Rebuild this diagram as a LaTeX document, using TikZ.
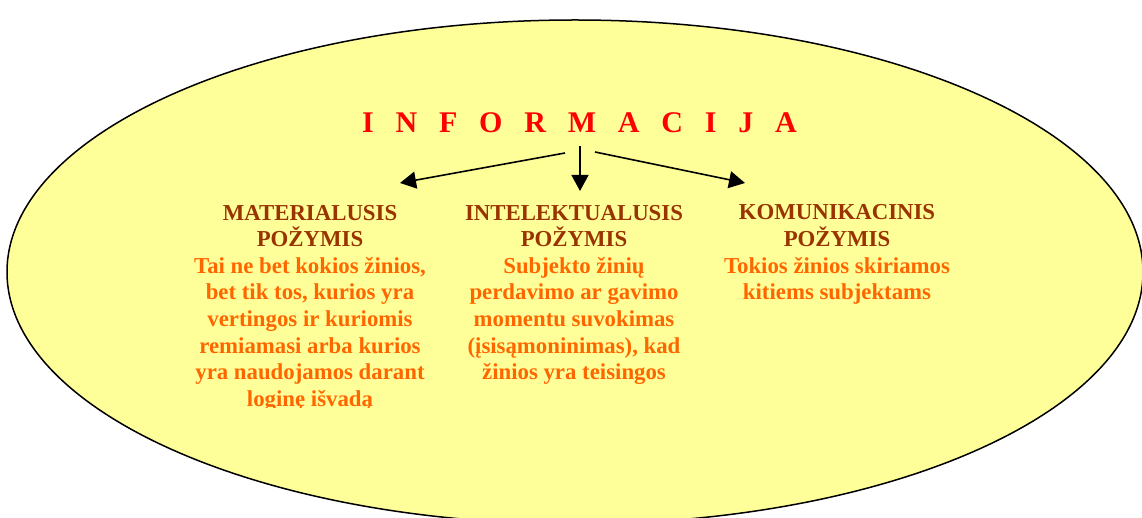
\documentclass[tikz,border=0pt]{standalone}
\usepackage{fontspec}
\setmainfont{Liberation Serif}
\usepackage{tikz}
\usetikzlibrary{arrows.meta}

\definecolor{ovalfill}{HTML}{FFFF99}
\definecolor{headbrown}{HTML}{993300}
\definecolor{bodyorange}{HTML}{FF6600}

\begin{document}
\begin{tikzpicture}[x=1pt, y=-1pt, line width=1.5pt,
    block/.style={align=center, anchor=base, inner sep=0pt, text=bodyorange,
      font=\bfseries\fontsize{22.8}{26.6}\selectfont},
    branch/.style={-{Triangle[length=16pt, width=17pt]}, line width=1.6pt}]
    \useasboundingbox (0,0) rectangle (1142,518);

    % draw the oval
    \filldraw[fill=ovalfill, draw=black] (575,272) ellipse [x radius=568, y radius=252];

    % draw title
    \node[anchor=base, inner sep=0pt, text=red, font=\bfseries\fontsize{30}{36}\selectfont]
      (info) at (579.5,133) {\spaceskip=21.8pt I N F O R M A C I J A};

    % draw the three features (base = last line)
    \begin{scope}
      \clip (0,0) rectangle (1142,407.5);
      \node[block] (mater) at (310,406.2)
        {\textcolor{headbrown}{MATERIALUSIS}\\ \textcolor{headbrown}{POŽYMIS}\\
         Tai ne bet kokios žinios,\\ bet tik tos, kurios yra\\ vertingos ir kuriomis\\
         remiamasi arba kurios\\ yra naudojamos darant\\ loginę išvadą};
    \end{scope}
    \node[block] (intel) at (574,379.6)
      {\textcolor{headbrown}{INTELEKTUALUSIS}\\ \textcolor{headbrown}{POŽYMIS}\\
       Subjekto žinių\\ perdavimo ar gavimo\\ momentu suvokimas\\
       (įsisąmoninimas), kad\\ žinios yra teisingos};
    \node[block] (komun) at (837,299.8)
      {\textcolor{headbrown}{KOMUNIKACINIS}\\ \textcolor{headbrown}{POŽYMIS}\\
       Tokios žinios skiriamos\\ kitiems subjektams};

    % draw arrows
    \coordinate (forkL) at (565,153);
    \coordinate (forkM) at (580,146);
    \coordinate (forkR) at (595,152);
    \coordinate (materTip) at (400,183);
    \coordinate (intelTip) at (580,191);
    \coordinate (komunTip) at (745,183);
    \draw[branch] (forkL) -- (materTip);
    \draw[branch] (forkM) -- (intelTip);
    \draw[branch] (forkR) -- (komunTip);
\end{tikzpicture}
\end{document}
